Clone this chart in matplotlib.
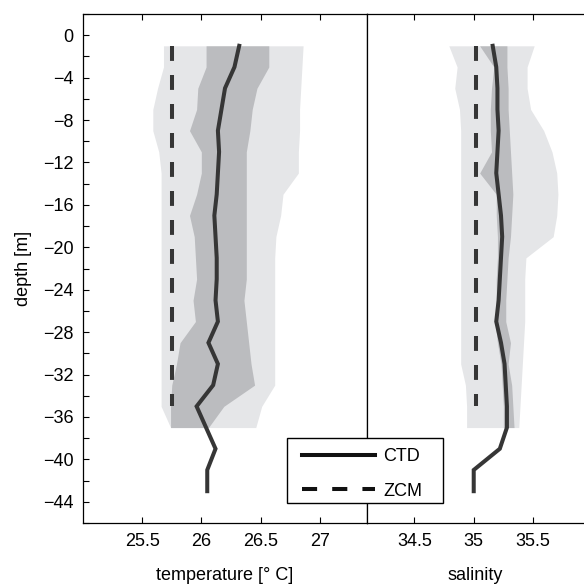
import numpy as np
import matplotlib
matplotlib.use('Agg')
import matplotlib.pyplot as plt
from matplotlib.ticker import MultipleLocator
from matplotlib.patches import Rectangle

plt.rcParams['font.family'] = ['Liberation Sans', 'DejaVu Sans']

# depth levels [m]
depth_ctd = [-1, -3, -5, -7, -9, -11, -13, -15, -17, -19, -21, -23, -25, -27,
             -29, -31, -33, -35, -37, -39, -41, -43]
depth_band = depth_ctd[:19]
depth_zcm = [-1, -35]

# temperature
temp_ctd = [26.32, 26.28, 26.20, 26.17, 26.14, 26.15, 26.14, 26.13, 26.11, 26.12,
            26.13, 26.13, 26.12, 26.14, 26.06, 26.14, 26.10, 25.96, 26.04, 26.12,
            26.05, 26.05]
temp_zcm = [25.75, 25.75]
temp_outer_lo = [25.68, 25.68, 25.63, 25.59, 25.59, 25.64, 25.66, 25.66, 25.66, 25.66,
                 25.66, 25.66, 25.66, 25.66, 25.66, 25.66, 25.66, 25.66, 25.74]
temp_outer_hi = [26.86, 26.85, 26.84, 26.83, 26.83, 26.82, 26.82, 26.69, 26.67, 26.63,
                 26.62, 26.62, 26.62, 26.62, 26.62, 26.62, 26.62, 26.51, 26.46]
temp_inner_lo = [26.04, 26.04, 25.97, 25.96, 25.90, 26.00, 26.00, 25.96, 25.90, 25.94,
                 25.95, 25.96, 25.93, 25.95, 25.82, 25.79, 25.75, 25.74, 25.74]
temp_inner_hi = [26.57, 26.57, 26.47, 26.43, 26.41, 26.38, 26.38, 26.38, 26.38, 26.38,
                 26.38, 26.38, 26.36, 26.38, 26.40, 26.42, 26.45, 26.19, 26.06]

# salinity
sal_ctd = [35.16, 35.19, 35.20, 35.20, 35.21, 35.20, 35.19, 35.21, 35.23, 35.24,
           35.23, 35.22, 35.21, 35.19, 35.23, 35.26, 35.27, 35.28, 35.28, 35.22,
           35.00, 35.00]
sal_zcm = [35.02, 35.02]
sal_outer_lo = [34.79, 34.86, 34.84, 34.88, 34.89, 34.89, 34.89, 34.89, 34.89, 34.89,
                34.89, 34.89, 34.89, 34.89, 34.89, 34.89, 34.93, 34.94, 34.94]
sal_outer_hi = [35.51, 35.45, 35.45, 35.48, 35.59, 35.66, 35.70, 35.71, 35.70, 35.67,
                35.44, 35.43, 35.43, 35.43, 35.42, 35.41, 35.40, 35.39, 35.38]
sal_inner_lo = [35.05, 35.17, 35.15, 35.14, 35.14, 35.15, 35.05, 35.19, 35.19, 35.20,
                35.20, 35.19, 35.19, 35.18, 35.20, 35.23, 35.24, 35.25, 35.25]
sal_inner_hi = [35.28, 35.28, 35.29, 35.29, 35.30, 35.31, 35.32, 35.33, 35.32, 35.31,
                35.29, 35.28, 35.27, 35.27, 35.31, 35.29, 35.32, 35.33, 35.34]

LIGHT = '#e5e6e8'
DARK = '#bbbcbf'
LINE = '#363636'
FS = 13

fig = plt.figure(figsize=(5.84, 5.86), dpi=100)
W, H = 584, 586
top, bot = 14, 523
ax1 = fig.add_axes([83 / W, (H - bot) / H, (367 - 83) / W, (bot - top) / H])
ax2 = fig.add_axes([367 / W, (H - bot) / H, (584 - 367) / W, (bot - top) / H], sharey=ax1)


def draw(ax, olo, ohi, ilo, ihi, ctd, zcm):
    ax.fill_betweenx(depth_band, olo, ohi, color=LIGHT, lw=0)
    ax.fill_betweenx(depth_band, ilo, ihi, color=DARK, lw=0)
    ax.plot(ctd, depth_ctd, color=LINE, lw=2.9, solid_joinstyle='miter')
    ax.plot(zcm, depth_zcm, color=LINE, lw=2.9, dashes=(3.7, 3.5), dash_capstyle='butt')
    ax.tick_params(direction='in', length=4, width=0.8, top=True, labelsize=FS,
                   pad=7)
    for s in ax.spines.values():
        s.set_linewidth(0.9)


draw(ax1, temp_outer_lo, temp_outer_hi, temp_inner_lo, temp_inner_hi, temp_ctd, temp_zcm)
draw(ax2, sal_outer_lo, sal_outer_hi, sal_inner_lo, sal_inner_hi, sal_ctd, sal_zcm)
ax2.spines['right'].set_visible(False)

ax1.set_xlim(25.0, 27.4)
ax1.set_xticks([25.5, 26, 26.5, 27])
ax1.set_xticklabels(['25.5', '26', '26.5', '27'])
ax2.set_xlim(34.1, 35.93)
ax2.set_xticks([34.5, 35, 35.5])
ax2.set_xticklabels(['34.5', '35', '35.5'])

ax1.set_ylim(-46, 2)
ax1.yaxis.set_major_locator(MultipleLocator(4))
ax1.yaxis.set_minor_locator(MultipleLocator(2))
ax1.tick_params(axis='y', which='both', direction='in', length=4, width=0.8,
                right=False, pad=7)
ax2.tick_params(axis='y', which='both', left=False, right=False, labelleft=False)

ax1.set_xlabel('temperature [° C]', fontsize=FS, labelpad=12.5)
ax2.set_xlabel('salinity', fontsize=FS, labelpad=12.5)
ax1.set_ylabel('depth [m]', fontsize=FS, labelpad=8)

# legend box spanning both panels
box = Rectangle((287 / W, (H - 503) / H), (443 - 287) / W, (503 - 438) / H,
                transform=fig.transFigure, facecolor='white', edgecolor='black',
                lw=1.0, zorder=4)
fig.add_artist(box)

h1, = ax1.plot([], [], color='#111111', lw=2.9)
h2, = ax1.plot([], [], color='#111111', lw=2.9, dashes=(3.75, 3.75))
leg = fig.legend([h1, h2], ['CTD', 'ZCM'], loc='center left',
                 bbox_to_anchor=(302 / W, (H - 474) / H),
                 fontsize=FS, frameon=False, handlelength=4.05, handletextpad=0.45,
                 borderpad=0, labelspacing=0.95, borderaxespad=0)
leg.set_zorder(5)

fig.savefig('out.png', dpi=100)
